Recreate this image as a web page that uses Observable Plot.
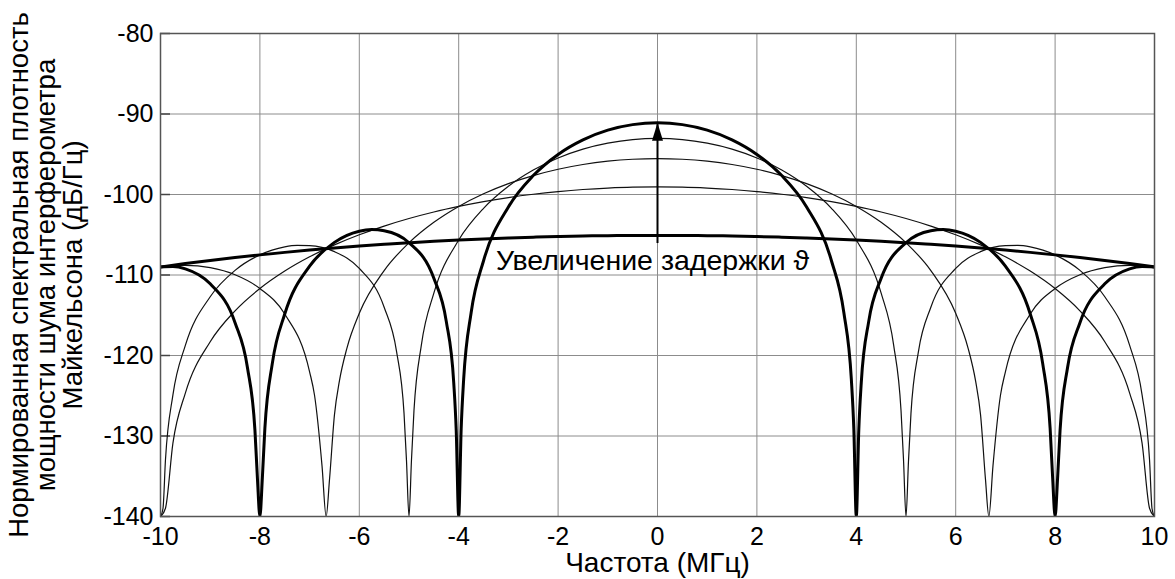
<!DOCTYPE html>
<html>
<head>
<meta charset="utf-8">
<script src="https://cdn.jsdelivr.net/npm/d3@7"></script>
<script src="https://cdn.jsdelivr.net/npm/@observablehq/plot@0.6"></script>
<style>
  html, body { margin: 0; padding: 0; background: #fff; }
</style>
</head>
<body>
<div id="chart"></div>
<script>
// ---- Data (f >= 0 half, the spectrum is symmetric) ----
const xTicks = [-10, -8, -6, -4, -2, 0, 2, 4, 6, 8, 10];
const yTicks = [-140, -130, -120, -110, -100, -90, -80];

// Curve A (thick, almost flat)
const fA = [0,0.5,1,1.5,2,2.5,3,3.5,4,4.5,5,5.5,6,6.5,7,7.5,8,8.5,9,9.5,10];
const vA = [-105.08,-105.09,-105.11,-105.16,-105.22,-105.30,-105.40,-105.52,-105.66,-105.81,-105.99,-106.19,-106.40,-106.64,-106.90,-107.19,-107.50,-107.83,-108.19,-108.58,-109.00];

// Curve B (thin, null at 10 MHz)
const fB = [0,0.5,1,1.5,2,2.5,3,3.5,4,4.5,5,5.5,6,6.5,7,7.5,8,8.5,9,9.5,9.75,9.9,10];
const vB = [-99.06,-99.09,-99.20,-99.38,-99.64,-99.97,-100.38,-100.88,-101.48,-102.17,-102.98,-103.92,-105.00,-106.26,-107.74,-109.51,-111.68,-114.45,-118.29,-124.67,-130.89,-138.97,-140];

// Curve C (thin, null at 6.67 MHz)
const fC = [0,0.5,1,1.5,2,2.5,3,3.5,4,4.5,5,5.5,6,6.25,6.4,6.5,6.6,6.667,6.75,6.9,7,7.5,8,8.5,9,9.5,9.75,10];
const vC = [-95.54,-95.62,-95.86,-96.27,-96.86,-97.65,-98.65,-99.91,-101.48,-103.45,-105.99,-109.45,-114.76,-119.11,-123.16,-127.37,-135.45,-140,-133.71,-124.97,-122.02,-114.85,-111.68,-109.97,-109.09,-108.80,-108.84,-109.00];

// Curve D (thin, nulls at 5 and 10 MHz)
const fD = [0,0.5,1,1.5,2,2.5,3,3.5,4,4.5,4.75,4.9,4.95,5,5.05,5.1,5.25,5.5,6,6.5,7,7.25,7.5,8,8.5,9,9.5,9.75,9.9,9.95,10];
const vD = [-93.04,-93.18,-93.62,-94.36,-95.46,-96.96,-98.98,-101.72,-105.66,-112.26,-118.65,-126.85,-132.95,-140,-133.12,-127.19,-119.52,-114.01,-109.18,-107.10,-106.34,-106.32,-106.50,-107.50,-109.43,-112.70,-118.75,-124.89,-132.96,-139.01,-140];

// Curve E (thick, nulls at 4 and 8 MHz)
const fE = [0,0.5,1,1.5,2,2.5,3,3.5,3.75,3.9,3.95,4,4.05,4.1,4.25,4.5,5,5.5,5.75,6,6.5,7,7.5,7.75,7.9,7.95,8,8.05,8.1,8.25,8.5,9,9.5,9.75,10];
const vE = [-91.10,-91.32,-92.01,-93.21,-95.02,-97.65,-101.55,-108.23,-114.68,-122.93,-129.05,-140,-129.27,-123.36,-115.76,-110.41,-105.99,-104.50,-104.36,-104.56,-105.95,-108.91,-114.85,-120.98,-129.06,-135.13,-140,-135.24,-129.28,-121.52,-115.93,-111.10,-109.24,-108.95,-109.00];

// Annotation
const arrowX = 0, arrowFrom = -105.1, arrowTo = -91.1;
const noteText = "Увеличение задержки ϑ";
const noteX = -3.25, noteY = -108.25;
const xTitle = "Частота (МГц)";
const yTitle = ["Нормированная спектральная плотность", "мощности шума интерферометра", "Майкельсона (дБ/Гц)"];

// ---- Build symmetric tables ----
function table(f, v) {
  const rows = [];
  for (let i = f.length - 1; i >= 1; i--) rows.push({f: -f[i], v: v[i]});
  for (let i = 0; i < f.length; i++) rows.push({f: f[i], v: v[i]});
  return rows;
}
const A = table(fA, vA), B = table(fB, vB), C = table(fC, vC), D = table(fD, vD), E = table(fE, vE);

const thin = {x: "f", y: "v", stroke: "#111", strokeWidth: 1.2, curve: "monotone-x", clip: true};
const thick = {x: "f", y: "v", stroke: "#000", strokeWidth: 3, curve: "monotone-x", clip: true};

const headSymbol = {
  draw(ctx) { ctx.moveTo(0, 0); ctx.lineTo(-5.5, 18); ctx.lineTo(5.5, 18); ctx.closePath(); }
};

const fmt = d => String(d);
const titleFont = 27.5;

const chart = Plot.plot({
  width: 1175, height: 579,
  marginLeft: 160, marginRight: 21, marginTop: 33, marginBottom: 63,
  x: {domain: [-10, 10]},
  y: {domain: [-140, -80]},
  style: {fontFamily: "'Liberation Sans', Arial, sans-serif", fontSize: "25px", color: "#000", background: "#fff", overflow: "visible"},
  marks: [
    Plot.gridX(xTicks, {stroke: "#8c8c8c", strokeOpacity: 1, strokeWidth: 1}),
    Plot.gridY(yTicks, {stroke: "#8c8c8c", strokeOpacity: 1, strokeWidth: 1}),
    Plot.tickY(yTicks, {y: d => d, stroke: "#444", strokeWidth: 1.5, insetRight: 984}),
    Plot.line(B, thin),
    Plot.line(C, thin),
    Plot.line(D, thin),
    Plot.line(A, thick),
    Plot.line(E, thick),
    Plot.frame({stroke: "#555", strokeWidth: 1.5}),
    Plot.ruleX([arrowX], {y1: arrowFrom, y2: arrowTo, stroke: "#000", strokeWidth: 2, insetTop: 8}),
    Plot.dot([arrowX], {x: d => d, y: () => arrowTo, symbol: headSymbol, fill: "#000", stroke: "none"}),
    Plot.text([noteText], {x: () => noteX, y: () => noteY, textAnchor: "start", lineAnchor: "middle", fontSize: 28.5}),
    Plot.axisX({ticks: xTicks, tickSize: 0, tickPadding: 11, tickFormat: fmt, label: null, fontSize: 25}),
    Plot.axisY({ticks: yTicks, tickSize: 0, tickPadding: 7, tickFormat: fmt, label: null, fontSize: 25}),
    Plot.text([xTitle], {frameAnchor: "bottom", dy: 47, textAnchor: "middle", lineAnchor: "middle", fontSize: 28}),
    Plot.text([yTitle[0]], {frameAnchor: "left", rotate: -90, dx: -141, dy: 0, textAnchor: "middle", lineAnchor: "middle", fontSize: titleFont}),
    Plot.text([yTitle[1]], {frameAnchor: "left", rotate: -90, dx: -114, dy: 0, textAnchor: "middle", lineAnchor: "middle", fontSize: titleFont}),
    Plot.text([yTitle[2]], {frameAnchor: "left", rotate: -90, dx: -87, dy: 0, textAnchor: "middle", lineAnchor: "middle", fontSize: titleFont})
  ]
});
document.getElementById("chart").appendChild(chart);
</script>
</body>
</html>
